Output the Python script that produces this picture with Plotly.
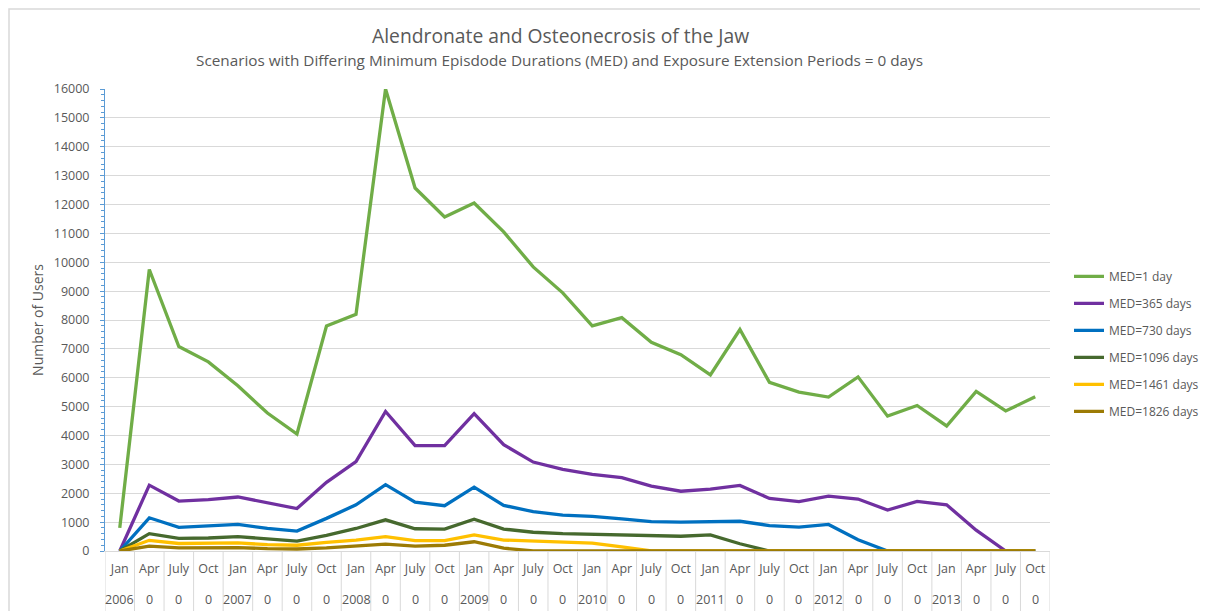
import plotly.graph_objects as go

months = ["Jan", "Apr", "July", "Oct"] * 8
years = []
for y in ["2006", "2007", "2008", "2009", "2010", "2011", "2012", "2013"]:
    years += [y, "0", "0", "0"]

med_1 = [800, 9750, 7080, 6550, 5720, 4780, 4050, 7790, 8200, 16000, 12570, 11570,
         12050, 11050, 9840, 8940, 7800, 8080, 7230, 6800, 6100, 7670, 5840, 5500,
         5330, 6030, 4670, 5040, 4330, 5530, 4850, 5340]
med_365 = [0, 2280, 1730, 1780, 1870, 1680, 1470, 2380, 3100, 4830, 3650, 3650,
           4760, 3680, 3080, 2830, 2650, 2540, 2250, 2070, 2140, 2270, 1820, 1710,
           1900, 1800, 1420, 1720, 1600, 720, 0, 0]
med_730 = [0, 1150, 820, 870, 920, 780, 690, 1130, 1600, 2300, 1690, 1570,
           2210, 1580, 1360, 1240, 1200, 1110, 1020, 1000, 1020, 1030, 880, 830,
           920, 390, 0, 0, 0, 0, 0, 0]
med_1096 = [0, 600, 440, 450, 500, 410, 340, 540, 780, 1080, 770, 760,
            1100, 760, 650, 600, 580, 540, 520, 510, 560, 250, 0, 0,
            0, 0, 0, 0, 0, 0, 0, 0]
med_1461 = [0, 370, 260, 270, 280, 220, 200, 300, 380, 500, 360, 360,
            560, 380, 350, 300, 270, 140, 0, 0, 0, 0, 0, 0,
            0, 0, 0, 0, 0, 0, 0, 0]
med_1826 = [0, 170, 110, 120, 120, 80, 70, 110, 170, 240, 170, 200,
            320, 100, 0, 0, 0, 0, 0, 0, 0, 0, 0, 0,
            0, 0, 0, 0, 0, 0, 0, 0]

series_names = ["MED=1 day", "MED=365 days", "MED=730 days",
                "MED=1096 days", "MED=1461 days", "MED=1826 days"]
series_values = [med_1, med_365, med_730, med_1096, med_1461, med_1826]
series_colors = ["#70AD47", "#7030A0", "#0070C0", "#46692E", "#FFC000", "#9C7B05"]

FONT = "Open Sans"
GRAY = "#595959"
x_idx = list(range(len(months)))

# figure geometry (page adds an 8px body margin)
W, H = 1200, 603
L, R, T, B = 97, 158, 81, 60
PW, PH = W - L - R, H - T - B

fig = go.Figure()
for name, vals, col in zip(series_names, series_values, series_colors):
    fig.add_trace(go.Scatter(
        x=x_idx, y=vals, name=name, mode="lines", legendgroup=name,
        line=dict(color=col, width=3.3), hoverinfo="x+y+name"))

# category separators (Excel multi-level label boxes)
shapes = []
for i in range(len(months) + 1):
    shapes.append(dict(type="line", xref="x", yref="paper",
                       x0=i - 0.5, x1=i - 0.5, y0=0, y1=-0.14,
                       line=dict(color="#D9D9D9", width=1)))
# chart frame
shapes.append(dict(type="rect", xref="paper", yref="paper",
                   x0=(1 - L) / PW, x1=(W + 10 - L) / PW,
                   y0=-0.2, y1=1 + (T - 1) / PH,
                   line=dict(color="#D9D9D9", width=1.5)))

annotations = []
for i, yl in enumerate(years):
    annotations.append(dict(x=i, y=0, xref="x", yref="paper", text=yl,
                            showarrow=False, yanchor="middle", yshift=-48,
                            font=dict(family=FONT, size=12.5, color=GRAY)))
annotations.append(dict(x=(552 - L) / PW, y=1 + (T - 28) / PH, xref="paper", yref="paper",
                        text="Alendronate and Osteonecrosis of the Jaw", showarrow=False,
                        yanchor="middle", font=dict(family=FONT, size=19.3, color=GRAY)))
annotations.append(dict(x=(551 - L) / PW, y=1 + (T - 52) / PH, xref="paper", yref="paper",
                        text="Scenarios with Differing Minimum Episdode Durations (MED) and Exposure Extension Periods = 0 days",
                        showarrow=False, yanchor="middle",
                        font=dict(family=FONT, size=15.3, color=GRAY)))

fig.update_layout(
    width=W, height=H,
    margin=dict(l=L, r=R, t=T, b=B, autoexpand=False),
    paper_bgcolor="white", plot_bgcolor="white",
    font=dict(family=FONT, size=12.5, color=GRAY),
    showlegend=True,
    legend=dict(x=(1061 - L) / PW, y=0.626, xanchor="left", yanchor="top",
                font=dict(family=FONT, size=12, color=GRAY),
                tracegroupgap=8, bgcolor="rgba(0,0,0,0)", borderwidth=0),
    shapes=shapes, annotations=annotations,
    xaxis=dict(range=[-0.5, len(months) - 0.5], tickmode="array",
               tickvals=x_idx, ticktext=months, showgrid=False, zeroline=False,
               showline=True, linecolor="#D9D9D9", linewidth=1, ticks="",
               ticklabelstandoff=6, tickangle=0,
               tickfont=dict(family=FONT, size=12.5, color=GRAY)),
    yaxis=dict(range=[0, 16000], dtick=1000, tickformat="d",
               showgrid=True, gridcolor="#D9D9D9",
               gridwidth=1, zeroline=False, showline=True, linecolor="#5B9BD5",
               linewidth=1, ticks="outside", ticklen=4, tickcolor="#5B9BD5",
               minor=dict(dtick=200, ticks="outside", ticklen=3, tickcolor="#5B9BD5",
                          showgrid=False),
               ticklabelstandoff=8,
               tickfont=dict(family=FONT, size=12.5, color=GRAY),
               title=dict(text="Number of Users", standoff=6,
                          font=dict(family=FONT, size=14, color=GRAY))),
)

fig.write_html("out.html")
